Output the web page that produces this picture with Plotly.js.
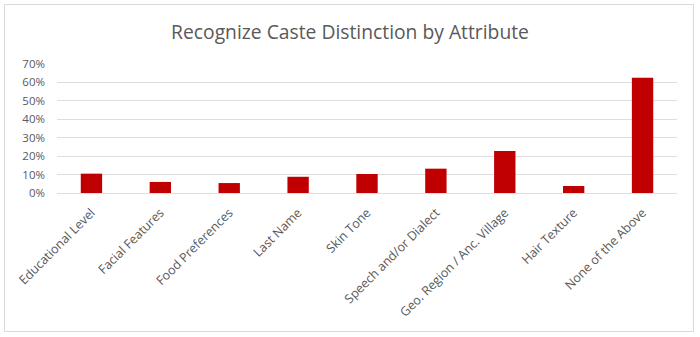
<!DOCTYPE html>
<html>
<head>
<meta charset="utf-8">
<script src="https://cdn.plot.ly/plotly-3.0.1.min.js"></script>
<style>
html,body{margin:0;padding:0;background:#fff;}
#chart{width:700px;height:337px;}
</style>
</head>
<body>
<div id="chart"></div>
<script>
const categories = ["Educational Level","Facial Features","Food Preferences","Last Name","Skin Tone","Speech and/or Dialect","Geo. Region / Anc. Village","Hair Texture","None of the Above"];
const values = [0.105, 0.06, 0.054, 0.088, 0.103, 0.132, 0.228, 0.038, 0.626];
const yTickVals = [0,0.1,0.2,0.3,0.4,0.5,0.6,0.7];
const yTickText = ["0%","10%","20%","30%","40%","50%","60%","70%"];

const L=57, R=23, T=64, B=144, W=700, H=337;
const pw=W-L-R, ph=H-T-B;
const px = x => (x-L)/pw;
const py = y => (H-B-y)/ph;

const trace = {
  type:'bar', x:categories, y:values,
  marker:{color:'#C00000'},
  hoverinfo:'x+y'
};
const layout = {
  width:W, height:H,
  margin:{l:L,r:R,t:T,b:B,pad:0},
  paper_bgcolor:'#fff', plot_bgcolor:'#fff',
  bargap:0.69,
  showlegend:false,
  font:{family:'Open Sans, Liberation Sans, sans-serif', color:'#595959'},
  title:{text:'Recognize Caste Distinction by Attribute', x:0.5, xref:'container', xanchor:'center', y:1-32/H, yanchor:'middle', font:{size:19.3, color:'#595959', family:'Open Sans, sans-serif'}},
  xaxis:{type:'category', tickangle:-45, tickfont:{size:12.5, color:'#595959'}, showgrid:false, showline:false, ticks:'', ticklabelstandoff:9, automargin:false, range:[-0.5,8.5]},
  yaxis:{range:[0,0.7], tickvals:yTickVals, ticktext:yTickText, tickfont:{size:11.5, color:'#595959'}, gridcolor:'#dedede', gridwidth:1, zeroline:true, zerolinecolor:'#dedede', showline:false, ticks:'', ticklabelstandoff:11, automargin:false, fixedrange:true},
  shapes:[{type:'rect', xref:'paper', yref:'paper', x0:px(4.5), x1:px(693.5), y0:py(331.5), y1:py(4.5), line:{color:'#d9d9d9', width:1}, fillcolor:'rgba(0,0,0,0)', layer:'below'}]
};
Plotly.newPlot('chart',[trace],layout,{displayModeBar:false, staticPlot:true});
</script>
</body>
</html>
